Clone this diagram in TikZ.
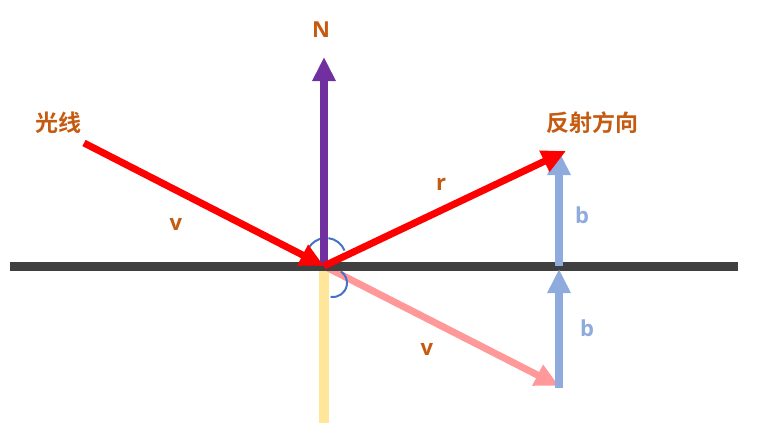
\documentclass[tikz,border=0pt]{standalone}
\usepackage{fontspec}
\setmainfont{Open Sans}
\newfontfamily\cjk{Noto Sans CJK SC}[BoldFont={* Bold}]
\usetikzlibrary{arrows.meta}
\definecolor{lbl}{HTML}{C55A11}
\definecolor{axis}{HTML}{404040}
\definecolor{nvec}{HTML}{7030A0}
\definecolor{bvec}{HTML}{8FAADC}
\definecolor{pvec}{HTML}{FF9999}
\definecolor{yel}{HTML}{FFE699}
\definecolor{arcc}{HTML}{4472C4}
\tikzset{
  vec/.style={line width=7pt, -{Triangle[length=24pt,width=22pt]}},
  txt/.style={text=lbl, font=\fontsize{22}{26}\selectfont\bfseries, inner sep=0pt},
  btxt/.style={text=bvec, font=\fontsize{22}{26}\selectfont\bfseries, inner sep=0pt},
  ctxt/.style={text=lbl, font=\fontsize{23}{27}\selectfont\cjk\bfseries, inner sep=0pt},
}
\begin{document}
\begin{tikzpicture}[x=1pt,y=-1pt]
\useasboundingbox (0,0) rectangle (768,447);
\coordinate (O) at (324,266);
\coordinate (L) at (10,266);
\coordinate (R) at (738,266);
\coordinate (Ntip) at (324,57);
\coordinate (S) at (84,143);
\coordinate (Rtip) at (566,151);
\coordinate (Bmid) at (559,266);
\coordinate (Btop) at (559,151);
\coordinate (Bbot) at (559,388);
\coordinate (Bmidtip) at (559,269);
\coordinate (Ptip) at (559,386);
\coordinate (Ytop) at (324,270);
\coordinate (Ybot) at (324,423);
% yellow
\draw[yel, line width=10pt] (Ytop) -- (Ybot);
% pink v
\draw[vec, pvec] (O) -- (Ptip);
% ground
\draw[axis, line width=9pt] (L) -- (R);
% blue b arrows
\draw[vec, bvec, line width=8pt] (Bbot) -- (Bmidtip);
\draw[vec, bvec, line width=8pt] (Bmid) -- (Btop);
% arcs
\draw[arcc, line width=2pt] (326,258) ++(-150:20) arc[start angle=-150, end angle=-97, radius=20];
\draw[arcc, line width=2pt] (326,258) ++(-83:20) arc[start angle=-83, end angle=-22, radius=20];
\draw[arcc, line width=2pt] (333,283) ++(100:14) arc[start angle=100, end angle=-55, radius=14];
% N
\draw[vec, nvec, line width=8pt] (O) -- (Ntip);
% rays
\draw[vec, red] (S) -- (O);
\draw[vec, red] (O) -- (Rtip);
% labels
\node[txt] (nl) at (321,30) {N};
\node[ctxt] (gx) at (58,123) {光线};
\node[ctxt] (fs) at (592,123) {反射方向};
\node[txt] (v1) at (176,224) {v};
\node[txt] (r1) at (441,184) {r};
\node[txt] (v2) at (427,349) {v};
\node[btxt] (b1) at (582,215) {b};
\node[btxt] (b2) at (587,328) {b};
\end{tikzpicture}
\end{document}
